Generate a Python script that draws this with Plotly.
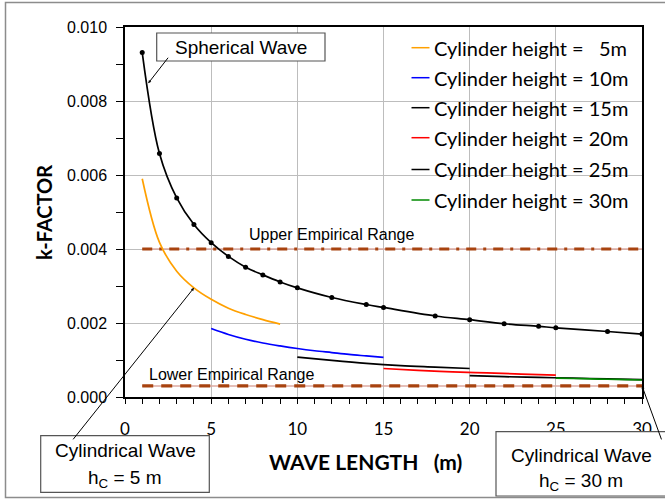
import plotly.graph_objects as go

# ---------------- data ----------------
sph_x = [1, 2, 3, 4, 5, 6, 7, 8, 9, 10, 12, 14, 15, 18, 20, 22, 24, 25, 28, 30]
sph_y = [0.00931, 0.00658, 0.00538, 0.00466, 0.00417, 0.00380, 0.00351, 0.00330,
         0.00311, 0.00295, 0.00269, 0.00250, 0.00242, 0.00219, 0.00209, 0.00198,
         0.00191, 0.00187, 0.00177, 0.00170]

cyl5_x = [1, 2, 3, 4, 5, 6, 7, 8, 9]
cyl5_y = [0.00590, 0.00418, 0.00340, 0.00295, 0.00264, 0.00240, 0.00223, 0.00209, 0.00197]

cyl10_x = [5, 6, 7, 8, 9, 10, 11, 12, 13, 14, 15]
cyl10_y = [0.00185, 0.00169, 0.00156, 0.00146, 0.00138, 0.00131, 0.00125, 0.00120,
           0.00115, 0.00111, 0.00107]

cyl15_x = [10, 12, 14, 16, 18, 20]
cyl15_y = [0.00108, 0.00099, 0.00091, 0.00085, 0.00081, 0.00077]

cyl20_x = [15, 17, 19, 21, 23, 25]
cyl20_y = [0.00077, 0.00072, 0.00068, 0.00065, 0.00062, 0.00059]

cyl25_x = [20, 22, 24, 26, 28, 30]
cyl25_y = [0.00058, 0.00055, 0.00053, 0.00051, 0.00049, 0.00047]

cyl30_x = [25, 26, 27, 28, 29, 30]
cyl30_y = [0.00051, 0.00050, 0.00049, 0.00048, 0.00047, 0.00046]

upper_x = [1, 30]
upper_y = [0.004, 0.004]
lower_x = [1, 30]
lower_y = [0.0003, 0.0003]

legend_labels = ["Cylinder height =\u00a0\u00a0 5m", "Cylinder height = 10m",
                 "Cylinder height = 15m", "Cylinder height = 20m",
                 "Cylinder height = 25m", "Cylinder height = 30m"]
legend_colors = ["#FFA000", "#0000FF", "#000000", "#FF0000", "#000000", "#008A00"]

# ---------------- geometry helpers (pixel -> paper) ----------------
W, H = 665, 499
ML, MR, MT, MB = 125, 23, 27, 102
PW, PH = W - ML - MR, H - MT - MB


def px(xp):
    return (xp - ML) / PW


def py(yp):
    return (H - MB - yp) / PH


ARIAL = "Liberation Sans, Arial, sans-serif"
CAL = "Lato, Carlito, Calibri, sans-serif"

fig = go.Figure()

# empirical ranges
fig.add_trace(go.Scatter(x=upper_x, y=upper_y, mode="lines",
                         line=dict(color="#DDAAA2", width=1.5), hoverinfo="skip"))
fig.add_trace(go.Scatter(x=upper_x, y=upper_y, mode="lines",
                         line=dict(color="#A8430F", width=3.2, dash="10px,7px,3px,7px")))
fig.add_trace(go.Scatter(x=lower_x, y=lower_y, mode="lines",
                         line=dict(color="#DDAAA2", width=1.5), hoverinfo="skip"))
fig.add_trace(go.Scatter(x=lower_x, y=lower_y, mode="lines",
                         line=dict(color="#A8430F", width=3.2, dash="11px,8px")))

cyl = [(cyl5_x, cyl5_y), (cyl10_x, cyl10_y), (cyl15_x, cyl15_y),
       (cyl20_x, cyl20_y), (cyl25_x, cyl25_y), (cyl30_x, cyl30_y)]
for (xs, ys), c, lab in zip(cyl, legend_colors, legend_labels):
    fig.add_trace(go.Scatter(x=xs, y=ys, mode="lines", name=lab,
                             line=dict(color=c, width=1.7, shape="spline")))

fig.add_trace(go.Scatter(x=sph_x, y=sph_y, mode="lines+markers", name="Spherical Wave",
                         line=dict(color="black", width=1.7, shape="spline"),
                         marker=dict(color="black", size=5)))

shapes = []
annotations = []

# outer frame
shapes.append(dict(type="rect", xref="paper", yref="paper",
                   x0=px(5.5), x1=px(670), y0=py(497.5), y1=py(2.5),
                   line=dict(color="#8C8C8C", width=1.5), layer="below"))

# manual legend
leg_y = [47.7, 77.7, 107.7, 137.7, 169.5, 200]
for lab, c, yy in zip(legend_labels, legend_colors, leg_y):
    shapes.append(dict(type="line", xref="paper", yref="paper",
                       x0=px(411.5), x1=px(429.5), y0=py(yy), y1=py(yy),
                       line=dict(color=c, width=1.5)))
    annotations.append(dict(xref="paper", yref="paper", x=px(432), y=py(yy),
                            xanchor="left", yanchor="middle", text=lab, showarrow=False,
                            font=dict(family=CAL, size=20, color="black")))

# boxes
boxes = [((156.7, 33, 325, 61), [("Spherical Wave", 241, 47)]),
         ((40.7, 435.7, 209.3, 492.3), [("Cylindrical Wave", 125, 450),
                                        ("h<sub>C</sub> = 5 m", 125, 479)]),
         ((496, 431.7, 670, 496), [("Cylindrical Wave", 581, 455),
                                   ("h<sub>C</sub> = 30 m", 581, 482)])]
for (x0, y0, x1, y1), texts in boxes:
    shapes.append(dict(type="rect", xref="paper", yref="paper",
                       x0=px(x0), x1=px(x1), y0=py(y1), y1=py(y0),
                       line=dict(color="#555555", width=1.2), fillcolor="white",
                       layer="above"))
    for t, cx, cy in texts:
        annotations.append(dict(xref="paper", yref="paper", x=px(cx), y=py(cy),
                                xanchor="center", yanchor="middle", text=t,
                                showarrow=False,
                                font=dict(family=ARIAL, size=19, color="black")))

# leader lines (arrows to curves)
arrows = [(1.35, 0.00848, 21, -27), (4, 0.00295, -122, 153), (30, 0.0003, 20, 55)]
for hx, hy, ax, ay in arrows:
    annotations.append(dict(x=hx, y=hy, xref="x", yref="y", text="",
                            showarrow=True, ax=ax, ay=ay, axref="pixel", ayref="pixel",
                            arrowhead=2, arrowsize=0.6, arrowwidth=1, arrowcolor="black",
                            font=dict(size=1)))

# empirical range labels
annotations.append(dict(x=12.0, y=0.0044, xref="x", yref="y", text="Upper Empirical Range",
                        showarrow=False, xanchor="center", yanchor="middle",
                        font=dict(family=ARIAL, size=16, color="black")))
annotations.append(dict(x=6.19, y=0.00061, xref="x", yref="y", text="Lower Empirical Range",
                        showarrow=False, xanchor="center", yanchor="middle",
                        font=dict(family=ARIAL, size=16, color="black")))

# axis titles
annotations.append(dict(xref="paper", yref="paper", x=px(365.5), y=py(461.5),
                        xanchor="center", yanchor="middle",
                        text="<b>WAVE LENGTH\u00a0\u00a0\u00a0(m)</b>", showarrow=False,
                        font=dict(family=CAL, size=21, color="black")))
annotations.append(dict(xref="paper", yref="paper", x=px(44), y=py(213),
                        xanchor="center", yanchor="middle",
                        text="<b>k-FACTOR</b>", showarrow=False, textangle=-90,
                        font=dict(family=CAL, size=20, color="black")))

fig.update_layout(
    width=W, height=H,
    margin=dict(l=ML, r=MR, t=MT, b=MB),
    paper_bgcolor="white", plot_bgcolor="white",
    showlegend=False,
    shapes=shapes, annotations=annotations,
    xaxis=dict(range=[0, 30], dtick=5, tick0=0, showgrid=True, gridcolor="#BDBDBD",
               gridwidth=1.3, zeroline=False, showline=True, linecolor="black",
               linewidth=1.5, mirror=True, ticks="outside", ticklen=5, tickcolor="black",
               minor=dict(dtick=1, ticks="outside", ticklen=5, tickcolor="black",
                          showgrid=False),
               tickfont=dict(family=CAL, size=17, color="black"), ticklabelstandoff=11),
    yaxis=dict(range=[0, 0.01], dtick=0.002, tick0=0, tickformat=".3f", showgrid=True,
               gridcolor="#BDBDBD", gridwidth=1.3, zeroline=False, showline=True,
               linecolor="black", linewidth=1.5, mirror=True, ticks="outside", ticklen=7,
               tickcolor="black",
               minor=dict(dtick=0.001, ticks="outside", ticklen=7, tickcolor="black",
                          showgrid=False),
               tickfont=dict(family=ARIAL, size=16, color="black"), ticklabelstandoff=6),
)

fig.write_html("out.html", config={"displayModeBar": False},
               post_script="document.body.style.margin='0';document.body.style.overflow='hidden';")
